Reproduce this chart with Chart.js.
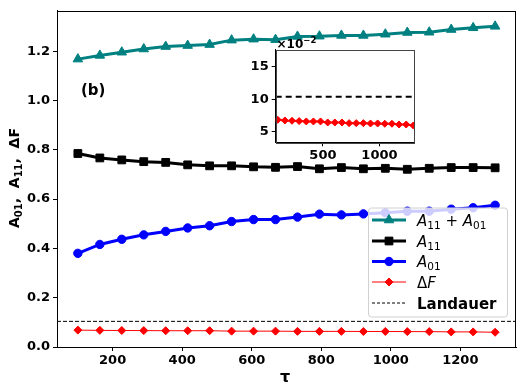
<!DOCTYPE html>
<html><head><meta charset="utf-8">
<script src="https://cdn.jsdelivr.net/npm/chart.js@4"></script>
<style>
html,body{margin:0;padding:0;background:#fff;}
#wrap{position:relative;width:529px;height:390px;overflow:hidden;}
#main{position:absolute;left:0;top:0;}
#inset{position:absolute;left:230px;top:30px;}
</style></head><body>
<div id="wrap"><canvas id="main" width="529" height="390"></canvas><canvas id="inset" width="195" height="135"></canvas></div>
<script>
// ---- data ----
const tau = [100, 163.2, 226.3, 289.5, 352.6, 415.8, 478.9, 542.1, 605.3, 668.4, 731.6, 794.7, 857.9, 921.1, 984.2, 1047.4, 1110.5, 1173.7, 1236.8, 1300];
const sumA = [1.168, 1.183, 1.196, 1.209, 1.219, 1.223, 1.227, 1.245, 1.249, 1.247, 1.260, 1.261, 1.264, 1.264, 1.269, 1.276, 1.277, 1.288, 1.295, 1.301];
const A11 = [0.785, 0.767, 0.759, 0.752, 0.749, 0.739, 0.735, 0.735, 0.731, 0.729, 0.732, 0.723, 0.728, 0.723, 0.725, 0.721, 0.725, 0.728, 0.728, 0.727];
const A01 = [0.380, 0.416, 0.437, 0.455, 0.469, 0.483, 0.492, 0.509, 0.517, 0.517, 0.527, 0.539, 0.536, 0.540, 0.545, 0.551, 0.551, 0.559, 0.565, 0.575];
const dF = [0.0685, 0.0675, 0.0670, 0.0665, 0.0660, 0.0660, 0.0660, 0.0644, 0.0644, 0.0644, 0.0634, 0.0634, 0.0634, 0.0629, 0.0629, 0.0624, 0.0624, 0.0613, 0.0613, 0.0598];
const landauer = 0.104;
const xTicks = [200, 400, 600, 800, 1000, 1200];
const yTicks = [0.0, 0.2, 0.4, 0.6, 0.8, 1.0, 1.2];
const insetXTicks = [500, 1000];
const insetYTicks = [0.05, 0.10, 0.15];
const xRange = [40, 1360], yRange = [0, 1.364];
const insetXRange = [82, 1312], insetYRange = [0.034, 0.176];

const FONT = "'DejaVu Sans'";
const pts = ys => tau.map((t, i) => ({x: t, y: ys[i]}));
const hline = (r, v) => [{x: r[0], y: v}, {x: r[1], y: v}];

function rich(ctx, x, y, segs, measureOnly) {
  let cx = x;
  for (const s of segs) {
    ctx.font = s.font;
    if (!measureOnly) ctx.fillText(s.t, cx, y + (s.dy || 0));
    cx += ctx.measureText(s.t).width;
  }
  return cx - x;
}

const frame = {
  id: 'frame',
  beforeDraw(c, a, o) {
    const {left, top, right, bottom} = c.chartArea; const ctx = c.ctx;
    if (o.fill) { ctx.save(); ctx.fillStyle = o.fill; ctx.fillRect(left, top, right - left, bottom - top); ctx.restore(); }
  },
  afterDatasetsDraw(c, a, o) {
    const {left, top, right, bottom} = c.chartArea; const ctx = c.ctx;
    ctx.save(); ctx.strokeStyle = o.color || '#000'; ctx.lineWidth = 1;
    ctx.strokeRect(Math.round(left) + 0.5, Math.round(top) + 0.5, Math.round(right - left) - 1, Math.round(bottom - top));
    ctx.restore();
  }
};

const decor = {
  id: 'decor',
  afterDraw(c) {
    const ctx = c.ctx; ctx.save(); ctx.fillStyle = '#000'; ctx.textBaseline = 'alphabetic';
    // (b)
    ctx.font = `bold 15px ${FONT}`; ctx.fillText('(b)', 81, 95);
    // x title
    ctx.font = `bold 16px ${FONT}`; ctx.textAlign = 'center'; ctx.fillText('τ', 285, 382);
    ctx.textAlign = 'left';
    // y title
    const big = `bold 14px ${FONT}`, sub = `bold 10px ${FONT}`;
    const ys = [{t:'A',font:big},{t:'01',font:sub,dy:3},{t:',  ',font:big},{t:'A',font:big},{t:'11',font:sub,dy:3},{t:',  ',font:big},{t:'ΔF',font:big}];
    const w = rich(ctx, 0, 0, ys, true);
    ctx.translate(18.5, 178); ctx.rotate(-Math.PI / 2);
    rich(ctx, -w / 2, 0, ys);
    ctx.restore();

    // legend
    ctx.save();
    const bx = 368, by = 207.5, bw = 139, bh = 109;
    ctx.fillStyle = 'rgba(255,255,255,0.8)'; ctx.strokeStyle = '#d0d0d0'; ctx.lineWidth = 1;
    ctx.beginPath(); ctx.roundRect(bx + 0.5, by + 0.5, bw, bh, 3); ctx.fill(); ctx.stroke();
    const it = `italic 15px ${FONT}`, rm = `15px ${FONT}`, sb = `10.5px ${FONT}`;
    const entries = [
      {y: 220, color: '#008080', lw: 3, style: 'triangle', r: 5.5, segs: [{t:'A',font:it},{t:'11',font:sb,dy:3},{t:' + ',font:rm},{t:'A',font:it},{t:'01',font:sb,dy:3}]},
      {y: 241, color: '#000000', lw: 3, style: 'rect', r: 5.5, segs: [{t:'A',font:it},{t:'11',font:sb,dy:3}]},
      {y: 261.5, color: '#0000ff', lw: 3, style: 'circle', r: 4.2, segs: [{t:'A',font:it},{t:'01',font:sb,dy:3}]},
      {y: 282, color: '#ff0000', lw: 1, style: 'rectRot', r: 4, segs: [{t:'Δ',font:rm},{t:'F',font:it}]},
      {y: 303, color: '#000000', lw: 1, style: null, dash: [3, 2], segs: [{t:'Landauer',font:`bold 15px ${FONT}`}]}
    ];
    for (const e of entries) {
      ctx.save();
      ctx.strokeStyle = e.color; ctx.lineWidth = e.lw; if (e.dash) ctx.setLineDash(e.dash);
      ctx.beginPath(); ctx.moveTo(372, e.y); ctx.lineTo(406, e.y); ctx.stroke();
      ctx.setLineDash([]);
      if (e.style) {
        ctx.fillStyle = e.color; ctx.lineWidth = 1;
        Chart.helpers.drawPoint(ctx, {pointStyle: e.style, radius: e.r, borderWidth: 1, rotation: 0}, 389, e.y);
      }
      ctx.restore();
      ctx.fillStyle = '#000';
      rich(ctx, 417, e.y + 5.5, e.segs);
    }
    ctx.restore();
  }
};

const tickFont = {family: FONT, weight: 'bold', size: 13};
const mkX = (range, ticks, h) => ({
  type: 'linear', min: range[0], max: range[1],
  afterBuildTicks: s => { s.ticks = ticks.map(v => ({value: v})); },
  afterFit: s => { s.height = h; },
  ticks: {font: tickFont, color: '#000', padding: 2, maxRotation: 0, autoSkip: false, callback: v => String(v)},
  grid: {display: true, drawOnChartArea: false, tickLength: 4, tickColor: '#000', tickWidth: 1},
  border: {display: true, color: '#000', width: 1}
});
const mkY = (range, ticks, w, fmt) => ({
  type: 'linear', min: range[0], max: range[1],
  afterBuildTicks: s => { s.ticks = ticks.map(v => ({value: v})); },
  afterFit: s => { s.width = w; },
  ticks: {font: tickFont, color: '#000', padding: 3, autoSkip: false, callback: fmt},
  grid: {display: true, drawOnChartArea: false, tickLength: 4, tickColor: '#000', tickWidth: 1},
  border: {display: true, color: '#000', width: 1}
});

new Chart(document.getElementById('main'), {
  type: 'line',
  data: {datasets: [
    {label: 'A11+A01', data: pts(sumA), borderColor: '#008080', backgroundColor: '#008080', borderWidth: 3, pointStyle: 'triangle', pointRadius: 5.5, pointBorderWidth: 1, order: 4},
    {label: 'A11', data: pts(A11), borderColor: '#000000', backgroundColor: '#000000', borderWidth: 3, pointStyle: 'rect', pointRadius: 5.5, pointBorderWidth: 1, order: 3},
    {label: 'A01', data: pts(A01), borderColor: '#0000ff', backgroundColor: '#0000ff', borderWidth: 3, pointStyle: 'circle', pointRadius: 4.2, pointBorderWidth: 1, order: 2},
    {label: 'ΔF', data: pts(dF), borderColor: '#ff0000', backgroundColor: '#ff0000', borderWidth: 1, pointStyle: 'rectRot', pointRadius: 4, pointBorderWidth: 1, order: 1},
    {label: 'Landauer', data: hline(xRange, landauer), borderColor: '#000000', borderWidth: 1, borderDash: [4, 2], pointRadius: 0, order: 5}
  ]},
  options: {
    responsive: false, animation: false, devicePixelRatio: 1,
    layout: {padding: {left: 0, top: 6, right: 13, bottom: 0}},
    scales: {x: mkX(xRange, xTicks, 43), y: mkY(yRange, yTicks, 57, v => v.toFixed(1))},
    plugins: {legend: {display: false}, tooltip: {enabled: false}, frame: {color: '#000'}},
    elements: {line: {tension: 0}}
  },
  plugins: [frame, decor]
});

const insetDecor = {
  id: 'insetDecor',
  afterDraw(c) {
    const ctx = c.ctx; ctx.save(); ctx.fillStyle = '#000';
    rich(ctx, 46.5, 17.5, [{t:'×10', font:`bold 12px ${FONT}`}, {t:'−2', font:`bold 8.5px ${FONT}`, dy:-4.5}]);
    ctx.restore();
  }
};

new Chart(document.getElementById('inset'), {
  type: 'line',
  data: {datasets: [
    {label: 'ΔF', data: pts(dF), borderColor: '#ff0000', backgroundColor: '#ff0000', borderWidth: 2, pointStyle: 'rectRot', pointRadius: 3.5, pointBorderWidth: 1, order: 1},
    {label: 'Landauer', data: hline(insetXRange, landauer), borderColor: '#000000', borderWidth: 2, borderDash: [6, 4], pointRadius: 0, order: 2}
  ]},
  options: {
    responsive: false, animation: false, devicePixelRatio: 1,
    layout: {padding: {left: 0, top: 19.7, right: 10.3, bottom: 0}},
    scales: {x: mkX(insetXRange, insetXTicks, 22.7), y: mkY(insetYRange, insetYTicks, 45.7, v => String(Math.round(v * 100)))},
    plugins: {legend: {display: false}, tooltip: {enabled: false}, frame: {color: '#444', fill: '#fff'}},
    elements: {line: {tension: 0}}
  },
  plugins: [frame, insetDecor]
});
</script>
</body></html>
